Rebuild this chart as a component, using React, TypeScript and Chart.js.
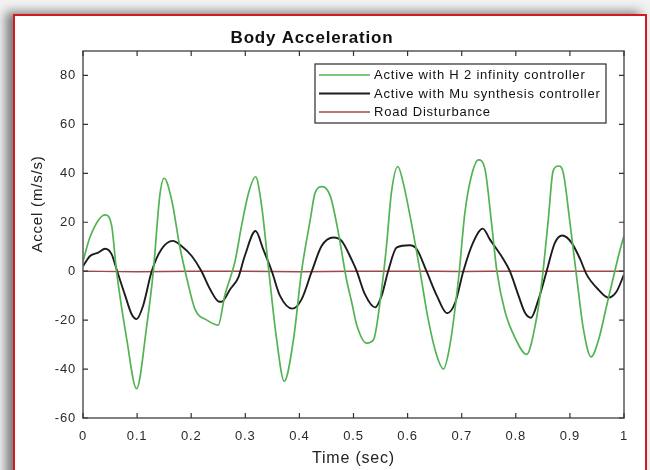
import React, { useEffect, useRef } from "react";
import { Chart, registerables } from "chart.js";

Chart.register(...registerables);

const chartTitle = "Body Acceleration";
const xAxisTitle = "Time (sec)";
const yAxisTitle = "Accel (m/s/s)";
const seriesLabels = [
  "Active with H 2 infinity controller",
  "Active with Mu synthesis controller",
  "Road Disturbance",
];

const xTicks = [0, 0.1, 0.2, 0.3, 0.4, 0.5, 0.6, 0.7, 0.8, 0.9, 1];
const xTickLabels = ["0", "0.1", "0.2", "0.3", "0.4", "0.5", "0.6", "0.7", "0.8", "0.9", "1"];
const yTicks = [-60, -40, -20, 0, 20, 40, 60, 80];
const yTickLabels = ["-60", "-40", "-20", "0", "20", "40", "60", "80"];

const h2Time = [
  0, 0.013, 0.041, 0.053, 0.062, 0.081, 0.099, 0.118, 0.13, 0.142, 0.15, 0.164, 0.179, 0.192,
  0.207, 0.229, 0.25, 0.262, 0.281, 0.293, 0.306, 0.319, 0.33, 0.343, 0.358, 0.372, 0.389,
  0.404, 0.42, 0.429, 0.442, 0.457, 0.472, 0.487, 0.497, 0.506, 0.524, 0.537, 0.552, 0.561,
  0.57, 0.582, 0.592, 0.608, 0.623, 0.638, 0.654, 0.666, 0.678, 0.694, 0.706, 0.718, 0.731,
  0.743, 0.755, 0.765, 0.78, 0.799, 0.82, 0.836, 0.848, 0.86, 0.869, 0.879, 0.888, 0.9,
  0.913, 0.925, 0.939, 0.953, 0.968, 0.983, 0.993, 1.0,
];
const h2Accel = [
  4, 14, 23, 18.5, 0, -28, -48, -22, 0, 31, 38, 29, 10, -3,
  -15.5, -20, -22, -10, 4, 18.5, 32, 38.6, 27, 1, -28, -45, -28,
  0, 21, 32, 34.6, 30.8, 15.8, -3.3, -13, -22, -29.4, -28, -7.4, 10.3,
  32, 42.8, 36, 18.5, 0, -19.6, -34.6, -40, -30.5, -3.3, 24, 39, 45.5,
  41.7, 20, 0, -16.5, -27.4, -34, -22, -4.6, 21, 41, 43, 40, 20,
  -3.3, -23.7, -35, -28, -14, 0, 9, 14.4,
];

const muTime = [
  0, 0.013, 0.028, 0.041, 0.053, 0.062, 0.078, 0.09, 0.099, 0.111, 0.127, 0.145, 0.166, 0.182,
  0.201, 0.219, 0.235, 0.25, 0.256, 0.272, 0.287, 0.299, 0.319, 0.333, 0.349, 0.364, 0.387,
  0.404, 0.423, 0.441, 0.463, 0.478, 0.497, 0.506, 0.521, 0.54, 0.552, 0.564, 0.58, 0.604,
  0.617, 0.635, 0.654, 0.673, 0.688, 0.703, 0.721, 0.739, 0.752, 0.777, 0.789, 0.805, 0.817,
  0.828, 0.842, 0.857, 0.872, 0.886, 0.903, 0.919, 0.931, 0.953, 0.971, 0.986, 1.0,
];
const muAccel = [
  2, 6.2, 7.6, 9.2, 6.9, 0.8, -10, -17.6, -19.6, -14.2, 0, 9, 12.4, 10.3,
  6.2, 0, -7.4, -12.3, -12.5, -7.4, -2.6, 6.2, 16.4, 9, 0, -10, -15.3,
  -11.5, 0, 10.3, 13.8, 12.4, 4.5, 0, -9.4, -14.8, -10, 0, 9.7, 10.6,
  9, 0, -10, -17.2, -12.8, 0, 11.7, 17.4, 13, 4.9, 0, -10, -17,
  -19, -11.5, 0, 11.5, 14.6, 11.7, 4.9, -1.4, -7.6, -10.8, -8.4, -1.4,
];

const roadTime = [0, 0.1, 0.2, 0.3, 0.4, 0.5, 0.6, 0.7, 0.8, 0.9, 1.0];
const roadAccel = [0, -0.2, 0, 0, -0.2, 0, 0, -0.1, 0, 0, 0];

const seriesColors = ["#52b352", "#1c1c1c", "#a04848"];
const seriesWidths = [1.7, 1.9, 1.4];

const FONT = "'Liberation Sans', Arial, Helvetica, sans-serif";
const SPACING = "0.8px";

function pts(t: number[], v: number[]) {
  return t.map((x, i) => ({ x, y: v[i] }));
}

export default function App() {
  const ref = useRef<HTMLCanvasElement | null>(null);

  useEffect(() => {
    const canvas = ref.current;
    if (!canvas) return;

    const spacingPlugin = {
      id: "letterSpacing",
      beforeInit(chart: any) {
        chart.ctx.letterSpacing = SPACING;
      },
      beforeLayout(chart: any) {
        chart.ctx.letterSpacing = SPACING;
      },
      beforeDraw(chart: any) {
        chart.ctx.letterSpacing = SPACING;
      },
    };

    const framePlugin = {
      id: "matlabFrame",
      afterDatasetsDraw(chart: any) {
        const { ctx, chartArea: a, scales } = chart;
        ctx.save();
        ctx.letterSpacing = SPACING;
        // axes box
        ctx.strokeStyle = "#626262";
        ctx.lineWidth = 1.6;
        ctx.strokeRect(a.left, a.top, a.right - a.left, a.bottom - a.top);
        // inward ticks
        ctx.strokeStyle = "#333333";
        ctx.lineWidth = 1.2;
        ctx.beginPath();
        xTicks.forEach((v) => {
          const x = scales.x.getPixelForValue(v);
          ctx.moveTo(x, a.bottom);
          ctx.lineTo(x, a.bottom - 5);
          ctx.moveTo(x, a.top);
          ctx.lineTo(x, a.top + 5);
        });
        yTicks.forEach((v) => {
          const y = scales.y.getPixelForValue(v);
          ctx.moveTo(a.left, y);
          ctx.lineTo(a.left + 5, y);
          ctx.moveTo(a.right, y);
          ctx.lineTo(a.right - 5, y);
        });
        ctx.stroke();

        // legend box
        const bx = a.right - 309;
        const by = a.top + 13;
        const bw = 291;
        const bh = 59;
        ctx.fillStyle = "#ffffff";
        ctx.fillRect(bx, by, bw, bh);
        ctx.strokeStyle = "#2a2a2a";
        ctx.lineWidth = 1.2;
        ctx.strokeRect(bx, by, bw, bh);
        ctx.font = `13px ${FONT}`;
        ctx.textBaseline = "middle";
        ctx.textAlign = "left";
        chart.data.datasets.forEach((ds: any, i: number) => {
          const yy = by + 11 + i * 18.5;
          ctx.strokeStyle = ds.borderColor;
          ctx.lineWidth = ds.borderWidth;
          ctx.beginPath();
          ctx.moveTo(bx + 4, yy);
          ctx.lineTo(bx + 55, yy);
          ctx.stroke();
          ctx.fillStyle = "#111111";
          ctx.fillText(ds.label, bx + 59, yy + 0.5);
        });

        // y axis title
        ctx.translate(38, 204);
        ctx.rotate(-Math.PI / 2);
        ctx.font = `15px ${FONT}`;
        ctx.textAlign = "center";
        ctx.fillStyle = "#222222";
        ctx.fillText(yAxisTitle, 0, 0);
        ctx.restore();
      },
    };

    const chart = new Chart(canvas, {
      type: "line",
      data: {
        datasets: [
          { label: seriesLabels[0], data: pts(h2Time, h2Accel), borderColor: seriesColors[0], borderWidth: seriesWidths[0] },
          { label: seriesLabels[1], data: pts(muTime, muAccel), borderColor: seriesColors[1], borderWidth: seriesWidths[1] },
          { label: seriesLabels[2], data: pts(roadTime, roadAccel), borderColor: seriesColors[2], borderWidth: seriesWidths[2] },
        ].map((d) => ({
          ...d,
          pointRadius: 0,
          fill: false,
          cubicInterpolationMode: "monotone" as const,
        })),
      },
      plugins: [spacingPlugin, framePlugin],
      options: {
        animation: false,
        responsive: false,
        maintainAspectRatio: false,
        events: [],
        layout: { padding: { left: 0, right: 26, top: 0, bottom: 0 } },
        plugins: {
          legend: { display: false },
          tooltip: { enabled: false },
          title: {
            display: true,
            text: chartTitle,
            color: "#111111",
            font: { family: FONT, size: 17, weight: "bold" },
            padding: { top: 28, bottom: 2.6 },
          },
        },
        scales: {
          x: {
            type: "linear",
            min: 0,
            max: 1,
            afterBuildTicks: (s: any) => {
              s.ticks = xTicks.map((v) => ({ value: v }));
            },
            afterFit: (s: any) => {
              s.height = 52;
            },
            ticks: {
              callback: (_v: any, i: number) => xTickLabels[i],
              color: "#2a2a2a",
              font: { family: FONT, size: 13 },
              padding: 11,
              maxRotation: 0,
              autoSkip: false,
            },
            grid: { display: false, drawTicks: false },
            border: { display: false },
            title: {
              display: true,
              text: xAxisTitle,
              color: "#222222",
              font: { family: FONT, size: 16 },
              padding: { top: 0, bottom: 1.5 },
            },
          },
          y: {
            type: "linear",
            min: -60,
            max: 90,
            afterBuildTicks: (s: any) => {
              s.ticks = yTicks.map((v) => ({ value: v }));
            },
            afterFit: (s: any) => {
              s.width = 83;
            },
            ticks: {
              callback: (_v: any, i: number) => yTickLabels[i],
              color: "#2a2a2a",
              font: { family: FONT, size: 13 },
              padding: 7,
              autoSkip: false,
            },
            grid: { display: false, drawTicks: false },
            border: { display: false },
          },
        },
      } as any,
    });

    return () => chart.destroy();
  }, []);

  return (
    <div
      style={{
        position: "fixed",
        left: 0,
        top: 0,
        width: 650,
        height: 470,
        overflow: "hidden",
        background: "#f2f2f2",
      }}
    >
      <div
        style={{
          position: "absolute",
          left: 13,
          top: 14,
          width: 634,
          height: 480,
          boxSizing: "border-box",
          border: "2px solid #d21c1c",
          background: "#ffffff",
          boxShadow: "-7px -2px 10px rgba(0,0,0,0.5)",
        }}
      />
      <canvas
        ref={ref}
        width={650}
        height={470}
        style={{ position: "absolute", left: 0, top: 0, width: 650, height: 470 }}
      />
    </div>
  );
}
